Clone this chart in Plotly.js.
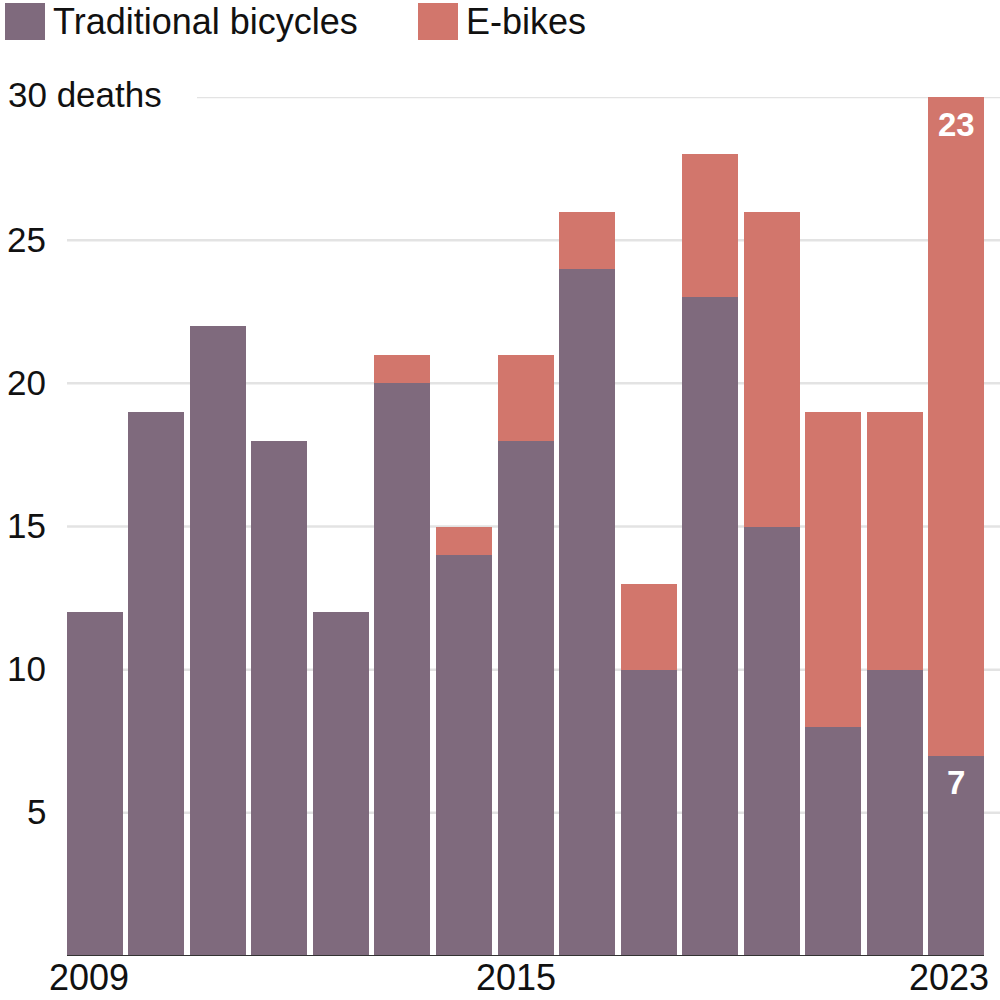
<!DOCTYPE html>
<html>
<head>
<meta charset="utf-8">
<script src="https://cdn.plot.ly/plotly-3.0.1.min.js"></script>
<style>html,body{margin:0;padding:0;background:#fff;}#chart{width:1000px;height:1000px;}</style>
</head>
<body>
<div id="chart"></div>
<script>
const years = [2009,2010,2011,2012,2013,2014,2015,2016,2017,2018,2019,2020,2021,2022,2023];
const traditional = [12,19,22,18,12,20,14,18,24,10,23,15,8,10,7];
const ebikes = [0,0,0,0,0,1,1,3,2,3,5,11,11,9,23];
const seriesNames = ['Traditional bicycles','E-bikes'];
const seriesColors = ['#7f6a7d','#d2766c'];
const yTickVals = [5,10,15,20,25,30];
const yTickText = ['5','10','15','20','25','30 deaths'];
const xTickYears = [2009,2015,2023];
const xTickShift = [-6,52,-7];

const FONT = '"Liberation Sans", Arial, sans-serif';
const W = 1000, H = 1000, L = 64, R = 13, T = 97, B = 44;
const pw = W - L - R;
const px2paper = p => (p - L) / pw;

const traces = [
  {type:'bar', x: years, y: traditional, name: seriesNames[0], marker:{color: seriesColors[0], line:{width:0}}, hoverinfo:'skip'},
  {type:'bar', x: years, y: ebikes, name: seriesNames[1], marker:{color: seriesColors[1], line:{width:0}}, hoverinfo:'skip'}
];

const shapes = [];
const annotations = [];
yTickVals.forEach((v, i) => {
  const isTop = i === yTickVals.length - 1;
  shapes.push({type:'line', xref:'paper', yref:'y', x0: isTop ? px2paper(197) : px2paper(67), x1: px2paper(1000), y0: v, y1: v, line:{color:'#e3e3e3', width:2.5}, layer:'below'});
  annotations.push({xref:'paper', yref:'y', x: isTop ? px2paper(6) : px2paper(48), y: v, xanchor: isTop ? 'left' : 'right', yanchor:'middle', yshift: isTop ? 3 : 1, text: yTickText[i], showarrow:false, font:{family:FONT, size:35, color:'#111'}});
});
// baseline
shapes.push({type:'line', xref:'paper', yref:'y', x0:px2paper(67), x1:px2paper(984), y0:0, y1:0, line:{color:'#333', width:2}, layer:'above'});

xTickYears.forEach((yr, i) => {
  annotations.push({xref:'x', yref:'paper', x: yr, y: 0, xanchor:'center', yanchor:'bottom', yshift:-(B - 1), xshift: xTickShift[i], borderpad:0, text: String(yr), showarrow:false, font:{family:FONT, size:36, color:'#111'}});
});

// legend (drawn manually)
const legendX = [5, 418];
seriesNames.forEach((n, i) => {
  shapes.push({type:'rect', xref:'paper', yref:'paper', x0: px2paper(legendX[i]), x1: px2paper(legendX[i]+40), y0: (H - B - 3) / (H - T - B), y1: (H - B - 40) / (H - T - B), fillcolor: seriesColors[i], line:{width:0}});
  annotations.push({xref:'paper', yref:'paper', x: px2paper(legendX[i]+46), y: (H - B - 22) / (H - T - B), xanchor:'left', yanchor:'middle', text: n, showarrow:false, font:{family:FONT, size:36, color:'#111'}});
});

// value labels on the last bar
const last = years.length - 1;
annotations.push({xref:'x', yref:'y', x: years[last], y: traditional[last] + ebikes[last], yanchor:'top', yshift:-7, text:'<b>' + ebikes[last] + '</b>', showarrow:false, font:{family:FONT, size:33, color:'#fff'}});
annotations.push({xref:'x', yref:'y', x: years[last], y: traditional[last], yanchor:'top', yshift:-6, text:'<b>' + traditional[last] + '</b>', showarrow:false, font:{family:FONT, size:33, color:'#fff'}});

const layout = {
  width: W, height: H,
  margin: {l: L, r: R, t: T, b: B, pad: 0},
  paper_bgcolor:'#fff', plot_bgcolor:'#fff',
  barmode:'stack', bargap: 0.09,
  showlegend:false,
  xaxis:{type:'linear', range:[2008.5, 2023.5], showgrid:false, zeroline:false, showticklabels:false, ticks:'', showline:false, fixedrange:true},
  yaxis:{range:[0,30], showgrid:false, zeroline:false, showticklabels:false, ticks:'', showline:false, fixedrange:true},
  shapes, annotations,
  font:{family:FONT}
};

Plotly.newPlot('chart', traces, layout, {displayModeBar:false, staticPlot:true});
</script>
</body>
</html>
